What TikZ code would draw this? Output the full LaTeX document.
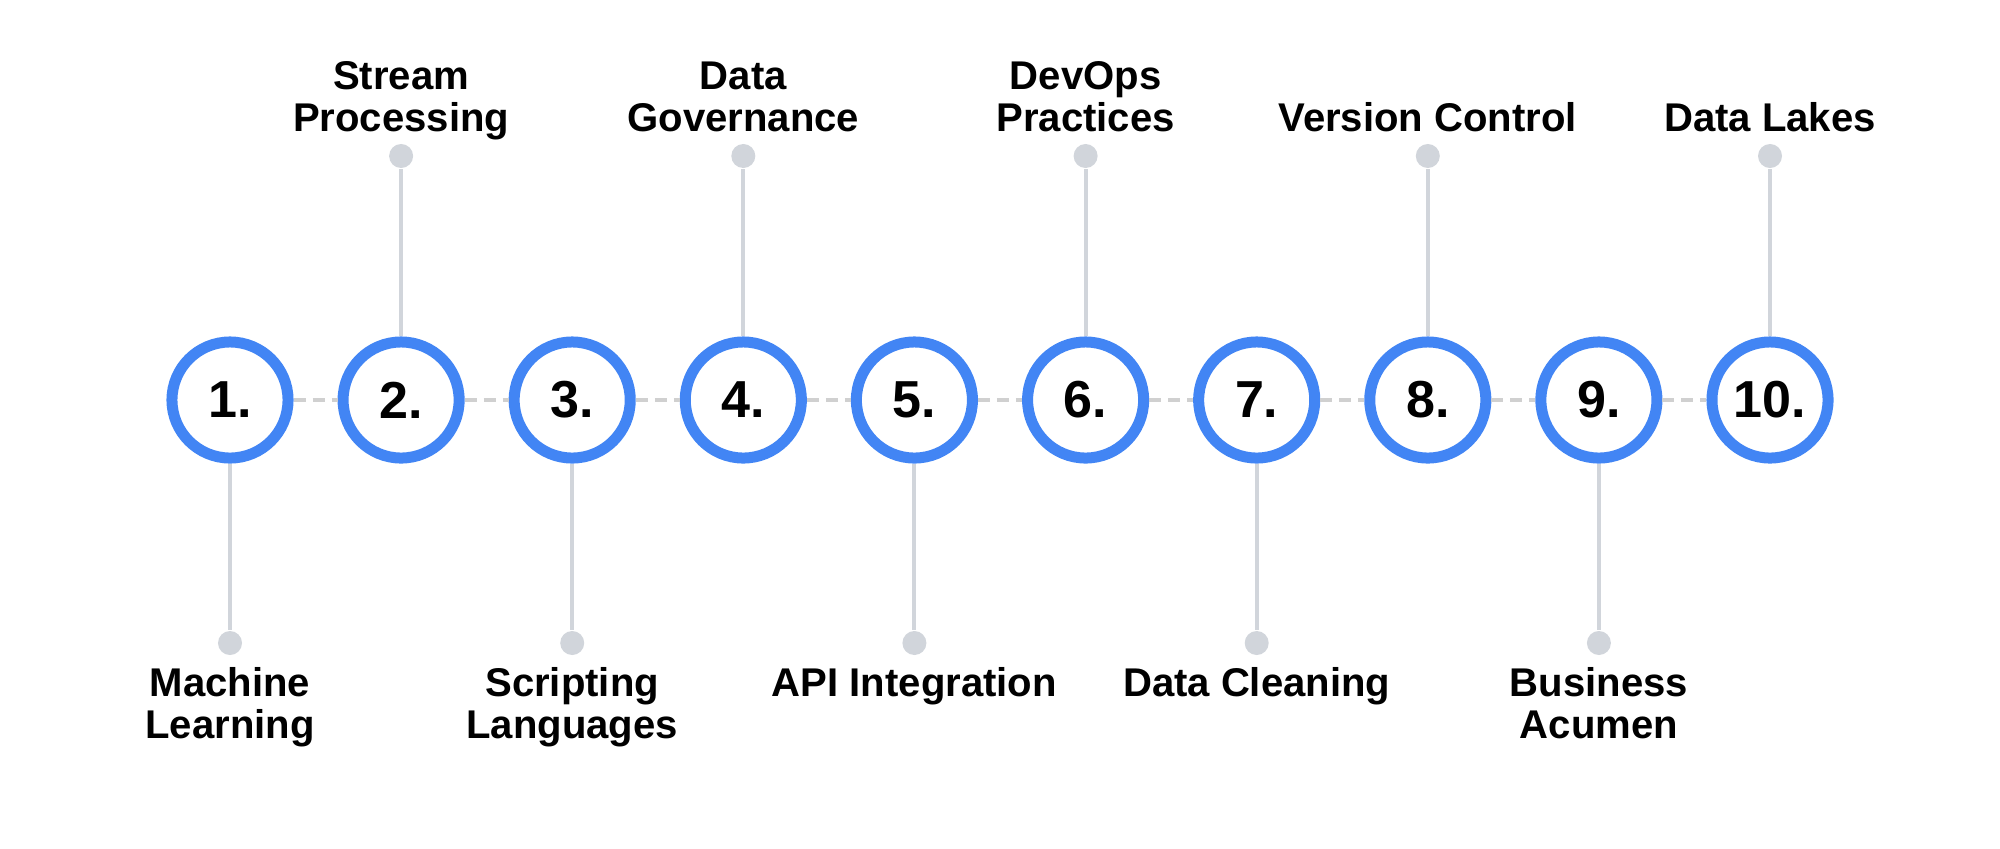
\documentclass[tikz,border=0pt]{standalone}
\usepackage{fontspec}
\setmainfont{Liberation Sans}
\usetikzlibrary{positioning}
\definecolor{StepBlue}{HTML}{4285F4}
\definecolor{StemGray}{HTML}{D1D5DB}
\definecolor{DashGray}{HTML}{D0D0D0}

\begin{document}
\begin{tikzpicture}[x=0.01cm, y=-0.01cm,
   ring/.style={circle, draw=StepBlue, line width=0.11cm, fill=white, minimum size=1.16cm,
                inner sep=0pt, font=\fontsize{14.8pt}{16pt}\selectfont\bfseries},
   pin/.style={circle, fill=StemGray, minimum size=0.24cm, inner sep=0pt},
   stem/.style={draw=StemGray, line width=0.04cm},
   joinline/.style={draw=DashGray, line width=0.04cm, dash pattern=on 0.12cm off 0.07cm},
   toplabel/.style={anchor=south, align=center, inner sep=0pt, text depth=0pt,
                    font=\fontsize{11.4pt}{11.9pt}\selectfont\bfseries},
   botlabel/.style={anchor=north, align=center, inner sep=0pt,
                    font=\fontsize{11.4pt}{11.9pt}\selectfont\bfseries}]
  \useasboundingbox (0,0) rectangle (2000,848);
  % steps
  \node[ring] (c1)  at (230,400)    {1.};
  \node[ring] (c2)  at (401.1,400)  {2.};
  \node[ring] (c3)  at (572.2,400)  {3.};
  \node[ring] (c4)  at (743.3,400)  {4.};
  \node[ring] (c5)  at (914.4,400)  {5.};
  \node[ring] (c6)  at (1085.6,400) {6.};
  \node[ring] (c7)  at (1256.7,400) {7.};
  \node[ring] (c8)  at (1427.8,400) {8.};
  \node[ring] (c9)  at (1598.9,400) {9.};
  \node[ring] (c10) at (1770,400)   {10.};
  % pins
  \node[pin] (d1)  at (230,643)    {};
  \node[pin] (d2)  at (401.1,156)  {};
  \node[pin] (d3)  at (572.2,643)  {};
  \node[pin] (d4)  at (743.3,156)  {};
  \node[pin] (d5)  at (914.4,643)  {};
  \node[pin] (d6)  at (1085.6,156) {};
  \node[pin] (d7)  at (1256.7,643) {};
  \node[pin] (d8)  at (1427.8,156) {};
  \node[pin] (d9)  at (1598.9,643) {};
  \node[pin] (d10) at (1770,156)   {};
  % labels
  \node[botlabel] (l1)  at (230,667)    {Machine\\Learning};
  \node[toplabel] (l2)  at (401.1,132)  {Stream\\Processing};
  \node[botlabel] (l3)  at (572.2,667)  {Scripting\\Languages};
  \node[toplabel] (l4)  at (743.3,132)  {Data\\Governance};
  \node[botlabel] (l5)  at (914.4,667)  {API Integration};
  \node[toplabel] (l6)  at (1085.6,132) {DevOps\\Practices};
  \node[botlabel] (l7)  at (1256.7,667) {Data Cleaning};
  \node[toplabel] (l8)  at (1427.8,132) {Version Control};
  \node[botlabel] (l9)  at (1598.9,667) {Business\\Acumen};
  \node[toplabel] (l10) at (1770,132)   {Data Lakes};
  % connectors
  \draw[joinline] (c1) -- (c2);
  \draw[joinline] (c2) -- (c3);
  \draw[joinline] (c3) -- (c4);
  \draw[joinline] (c4) -- (c5);
  \draw[joinline] (c5) -- (c6);
  \draw[joinline] (c6) -- (c7);
  \draw[joinline] (c7) -- (c8);
  \draw[joinline] (c8) -- (c9);
  \draw[joinline] (c9) -- (c10);
  \draw[stem] (c1) -- (d1);
  \draw[stem] (c2) -- (d2);
  \draw[stem] (c3) -- (d3);
  \draw[stem] (c4) -- (d4);
  \draw[stem] (c5) -- (d5);
  \draw[stem] (c6) -- (d6);
  \draw[stem] (c7) -- (d7);
  \draw[stem] (c8) -- (d8);
  \draw[stem] (c9) -- (d9);
  \draw[stem] (c10) -- (d10);
\end{tikzpicture}
\end{document}
